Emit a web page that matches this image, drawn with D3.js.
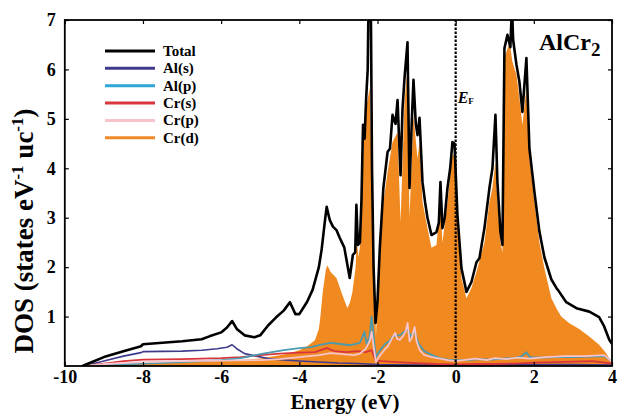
<!DOCTYPE html>
<html>
<head>
<meta charset="utf-8">
<script src="https://cdn.jsdelivr.net/npm/d3@7"></script>
<style>
  html, body { margin: 0; padding: 0; background: #fff; }
  svg { display: block; }
  text { font-family: "Liberation Serif", "Times New Roman", serif; font-weight: bold; }
</style>
</head>
<body>
<svg id="chart" width="619" height="416"></svg>
<script>
// Energy (eV) vs DOS (states eV^-1 uc^-1) for AlCr2
const xTicks = [-10, -8, -6, -4, -2, 0, 2, 4];
const yTicks = [1, 2, 3, 4, 5, 6, 7];

const totalDOS = [
  [-9.55,0],[-9.3,0.08],[-9,0.18],[-8.5,0.3],[-8.05,0.4],[-8,0.44],[-7.5,0.47],[-7,0.5],
  [-6.5,0.54],[-6.3,0.6],[-6.0,0.68],[-5.85,0.78],[-5.72,0.91],[-5.6,0.75],[-5.4,0.62],
  [-5.15,0.58],[-5.0,0.62],[-4.8,0.82],[-4.6,0.98],[-4.4,1.12],[-4.24,1.29],[-4.1,1.05],
  [-4.0,1.05],[-3.8,1.3],[-3.66,1.54],[-3.5,2.0],[-3.43,2.35],[-3.35,2.9],[-3.3,3.22],
  [-3.22,2.95],[-3.14,2.82],[-3.05,2.75],[-2.97,2.6],[-2.85,2.4],[-2.71,1.78],[-2.63,2.25],
  [-2.57,2.3],[-2.54,3.26],[-2.5,2.45],[-2.45,2.5],[-2.41,3.36],[-2.37,4.88],[-2.33,4.6],
  [-2.29,5.42],[-2.25,6.0],[-2.23,7.3],[-2.17,7.3],[-2.14,4.0],[-2.1,2.0],[-2.05,0.87],
  [-2.0,1.3],[-1.94,2.4],[-1.85,3.6],[-1.742,4.33],[-1.68,4.4],[-1.615,5.08],[-1.538,4.9],
  [-1.487,5.38],[-1.41,3.86],[-1.36,5.2],[-1.308,5.83],[-1.232,6.55],[-1.181,3.6],
  [-1.12,5.0],[-1.079,5.79],[-1.02,4.9],[-0.976,4.67],[-0.925,5.02],[-0.848,3.72],
  [-0.78,3.3],[-0.721,3.0],[-0.619,2.65],[-0.491,2.71],[-0.43,2.9],[-0.389,3.72],
  [-0.338,2.79],[-0.28,3.0],[-0.21,3.6],[-0.14,4.0],[-0.082,4.53],[-0.03,4.5],[0.046,3.05],
  [0.148,1.98],[0.276,1.5],[0.404,1.7],[0.532,2.1],[0.608,2.18],[0.736,2.79],[0.864,3.6],
  [0.941,4.0],[1.018,5.08],[1.069,3.72],[1.146,2.71],[1.197,2.45],[1.248,6.43],[1.325,6.7],
  [1.40,6.45],[1.44,7.3],[1.47,6.6],[1.555,6.1],[1.631,5.75],[1.708,5.14],[1.81,6.23],
  [1.887,4.4],[2.015,3.52],[2.143,2.72],[2.27,2.2],[2.449,1.75],[2.577,1.58],[2.65,1.5],
  [2.83,1.29],[3.09,1.17],[3.42,1.1],[3.67,0.99],[3.8,0.8],[3.93,0.53],[4.0,0.45]
];

const crD = [
  [-9.5,0],[-9,0.02],[-8,0.05],[-7,0.07],[-6,0.1],[-5.5,0.12],[-5,0.15],[-4.5,0.22],
  [-4.3,0.25],[-4,0.32],[-3.8,0.4],[-3.6,0.52],[-3.5,0.75],[-3.46,1.0],[-3.4,1.5],
  [-3.32,1.95],[-3.28,2.04],[-3.2,1.9],[-3.05,1.78],[-2.9,1.44],[-2.77,1.17],[-2.7,1.3],
  [-2.64,1.5],[-2.56,2.0],[-2.53,2.6],[-2.49,2.2],[-2.45,2.4],[-2.4,3.3],[-2.33,5.08],
  [-2.27,5.3],[-2.2,5.63],[-2.12,3.05],[-2.04,0.6],[-1.94,2.25],[-1.85,3.3],[-1.742,3.92],
  [-1.615,4.53],[-1.487,4.73],[-1.41,2.91],[-1.308,5.34],[-1.232,6.03],[-1.181,3.0],
  [-1.079,5.08],[-0.976,4.2],[-0.925,4.53],[-0.848,3.32],[-0.721,2.79],[-0.619,2.39],
  [-0.491,2.45],[-0.389,3.32],[-0.338,2.5],[-0.21,3.3],[-0.082,4.27],[0.0,4.27],[0.046,2.79],
  [0.148,1.78],[0.276,1.37],[0.404,1.58],[0.532,1.9],[0.736,2.5],[0.864,3.32],[0.941,3.6],
  [1.018,4.13],[1.069,3.3],[1.146,2.5],[1.197,2.3],[1.248,6.23],[1.38,6.55],[1.453,6.15],
  [1.555,5.89],[1.631,5.42],[1.708,4.88],[1.81,5.63],[1.887,4.2],[2.015,3.32],[2.143,2.5],
  [2.27,1.98],[2.449,1.37],[2.577,1.17],[2.7,1.0],[2.9,0.87],[3.16,0.75],[3.41,0.6],
  [3.67,0.43],[3.85,0.26],[3.93,0.15],[4.0,0.1]
];

const alS = [
  [-9.5,0],[-9,0.1],[-8.5,0.2],[-8.05,0.27],[-8,0.29],[-7,0.3],[-6.5,0.32],[-6.1,0.35],
  [-5.85,0.38],[-5.72,0.43],[-5.6,0.35],[-5.4,0.25],[-5.1,0.2],[-4.8,0.15],[-4.4,0.12],
  [-4,0.1],[-3.5,0.08],[-3,0.06],[-2.5,0.05],[-2,0.03],[-1,0.02],[0,0.02],[1,0.02],
  [2,0.03],[3,0.03],[4,0.02]
];

const alP = [
  [-9.5,0],[-9,0.02],[-8,0.05],[-7,0.08],[-6,0.12],[-5.5,0.16],[-5,0.24],[-4.7,0.28],
  [-4.4,0.32],[-4,0.36],[-3.7,0.38],[-3.5,0.42],[-3.2,0.47],[-3.0,0.45],[-2.8,0.43],
  [-2.7,0.42],[-2.55,0.45],[-2.45,0.47],[-2.38,0.6],[-2.33,0.69],[-2.28,0.45],[-2.2,0.6],
  [-2.15,1.0],[-2.1,0.6],[-2.04,0.18],[-1.95,0.3],[-1.8,0.45],[-1.7,0.5],[-1.6,0.6],
  [-1.5,0.62],[-1.43,0.62],[-1.3,0.7],[-1.23,0.75],[-1.15,0.6],[-1.05,0.7],[-0.95,0.45],
  [-0.8,0.3],[-0.6,0.22],[-0.4,0.16],[-0.2,0.13],[0,0.12],[0.3,0.12],[0.6,0.14],[0.9,0.13],
  [1.2,0.15],[1.5,0.16],[1.7,0.2],[1.8,0.28],[1.9,0.18],[2.2,0.17],[2.6,0.18],[3,0.18],
  [3.4,0.19],[3.8,0.2],[3.95,0.12],[4,0.08]
];

const crS = [
  [-9.5,0],[-9,0.05],[-8.5,0.1],[-8,0.13],[-7,0.14],[-6,0.16],[-5.5,0.18],[-5,0.22],
  [-4.5,0.25],[-4,0.27],[-3.6,0.28],[-3.3,0.36],[-3.1,0.3],[-2.8,0.28],[-2.5,0.3],
  [-2.3,0.28],[-2.15,0.32],[-2.05,0.12],[-1.9,0.1],[-1.5,0.08],[-1,0.06],[-0.5,0.04],
  [0,0.03],[0.5,0.04],[1,0.04],[1.5,0.05],[2,0.07],[2.5,0.08],[3,0.09],[3.5,0.1],[4,0.05]
];

const crP = [
  [-9.5,0],[-9,0.04],[-8,0.08],[-7,0.1],[-6,0.11],[-5,0.12],[-4.5,0.14],[-4,0.18],
  [-3.5,0.22],[-3.2,0.26],[-2.9,0.24],[-2.6,0.22],[-2.45,0.25],[-2.3,0.35],[-2.2,0.5],
  [-2.15,0.69],[-2.1,0.4],[-2.04,0.08],[-1.95,0.2],[-1.8,0.35],[-1.74,0.39],[-1.6,0.6],
  [-1.55,0.67],[-1.5,0.55],[-1.43,0.53],[-1.35,0.6],[-1.28,0.7],[-1.23,0.87],[-1.18,0.5],
  [-1.13,0.55],[-1.05,0.79],[-1.0,0.5],[-0.92,0.32],[-0.8,0.22],[-0.6,0.18],[-0.4,0.15],
  [-0.2,0.12],[0,0.1],[0.2,0.12],[0.5,0.15],[0.8,0.12],[1.0,0.16],[1.3,0.14],[1.6,0.17],
  [1.9,0.15],[2.3,0.18],[2.8,0.2],[3.3,0.2],[3.8,0.22],[3.95,0.12],[4,0.08]
];

const legendLabels = ["Total", "Al(s)", "Al(p)", "Cr(s)", "Cr(p)", "Cr(d)"];
const legendColors = ["#000000", "#3f3a8c", "#2ea6d6", "#d8363c", "#f7c4cc", "#ef8a2a"];

const svg = d3.select("#chart");
const W = 619, H = 416;
const m = { left: 64.8, right: 612, top: 20, bottom: 366 };

const x = d3.scaleLinear().domain([-10, 4]).range([m.left, m.right]);
const y = d3.scaleLinear().domain([0, 7]).range([m.bottom, m.top]);

svg.append("rect").attr("width", W).attr("height", H).attr("fill", "#fff");

svg.append("defs").append("clipPath").attr("id", "plotClip")
  .append("rect")
  .attr("x", m.left).attr("y", m.top)
  .attr("width", m.right - m.left).attr("height", m.bottom - m.top);

const plot = svg.append("g").attr("clip-path", "url(#plotClip)");

const line = d3.line().x(d => x(d[0])).y(d => y(d[1]));
const area = d3.area().x(d => x(d[0])).y0(y(0)).y1(d => y(d[1]));

// Cr(d) projected DOS as a filled area
plot.append("path").datum(crD)
  .attr("d", area)
  .attr("fill", "#f0891f");

// smaller projected components
const partials = [
  { data: alS, color: legendColors[1], w: 1.6 },
  { data: crS, color: legendColors[3], w: 1.8 },
  { data: alP, color: "#4a9ab0", w: 1.8 },
  { data: crP, color: legendColors[4], w: 1.8 }
];
partials.forEach(p => {
  plot.append("path").datum(p.data)
    .attr("d", line)
    .attr("fill", "none")
    .attr("stroke", p.color)
    .attr("stroke-width", p.w)
    .attr("stroke-linejoin", "round");
});

// total DOS
plot.append("path").datum(totalDOS)
  .attr("d", line)
  .attr("fill", "none")
  .attr("stroke", "#000")
  .attr("stroke-width", 2.6)
  .attr("stroke-linejoin", "round");

// Fermi level
svg.append("line")
  .attr("x1", x(0)).attr("x2", x(0))
  .attr("y1", y(0)).attr("y2", y(7))
  .attr("stroke", "#000")
  .attr("stroke-width", 2.2)
  .attr("stroke-dasharray", "2.5,1.5");

const ef = svg.append("text")
  .attr("x", x(0) + 2).attr("y", 103)
  .style("font-style", "italic")
  .style("font-size", "16px");
ef.append("tspan").text("E");
ef.append("tspan").attr("dy", 1).style("font-size", "9px").style("font-style", "normal").text("F");

// axes with inward ticks
const fmt = d => String(d);
const axB = svg.append("g").attr("transform", `translate(0,${m.bottom})`)
  .call(d3.axisBottom(x).tickValues(xTicks).tickFormat(fmt).tickSize(-4).tickPadding(4));
const axT = svg.append("g").attr("transform", `translate(0,${m.top})`)
  .call(d3.axisTop(x).tickValues(xTicks).tickFormat("").tickSize(-4));
const axL = svg.append("g").attr("transform", `translate(${m.left},0)`)
  .call(d3.axisLeft(y).tickValues(yTicks).tickFormat(fmt).tickSize(-4).tickPadding(9));
const axR = svg.append("g").attr("transform", `translate(${m.right},0)`)
  .call(d3.axisRight(y).tickValues(yTicks).tickFormat("").tickSize(-4));

[axB, axT, axL, axR].forEach(g => {
  g.select(".domain").remove();
  g.selectAll(".tick line").attr("stroke", "#000").attr("stroke-width", 1.2);
  g.selectAll(".tick text")
    .attr("fill", "#000")
    .style("font-family", "'Liberation Serif', 'Times New Roman', serif")
    .style("font-weight", "bold")
    .style("font-size", "18px");
});

// frame
svg.append("rect")
  .attr("x", m.left).attr("y", m.top)
  .attr("width", m.right - m.left).attr("height", m.bottom - m.top)
  .attr("fill", "none").attr("stroke", "#000").attr("stroke-width", 1.8);

// axis titles
svg.append("text")
  .attr("x", 345).attr("y", 409)
  .attr("text-anchor", "middle")
  .style("font-size", "21px")
  .text("Energy (eV)");

const yt = svg.append("text")
  .attr("transform", "translate(33,231) rotate(-90)")
  .attr("text-anchor", "middle")
  .style("font-size", "27px");
yt.append("tspan").text("DOS (states eV");
yt.append("tspan").attr("dy", -10).style("font-size", "17px").text("-1");
yt.append("tspan").attr("dy", 10).text(" uc");
yt.append("tspan").attr("dy", -10).style("font-size", "17px").text("-1");
yt.append("tspan").attr("dy", 10).text(")");

// compound label
const cl = svg.append("text")
  .attr("x", 539).attr("y", 50)
  .style("font-size", "24px");
cl.append("tspan").text("AlCr");
cl.append("tspan").attr("dy", 6).style("font-size", "19px").text("2");

// legend
const leg = svg.append("g");
legendLabels.forEach((lab, i) => {
  const ly = 51 + i * 17.35;
  leg.append("line")
    .attr("x1", 105).attr("x2", 155)
    .attr("y1", ly).attr("y2", ly)
    .attr("stroke", legendColors[i])
    .attr("stroke-width", 3);
  leg.append("text")
    .attr("x", 163).attr("y", ly + 5)
    .style("font-size", "15px")
    .text(lab);
});
</script>
</body>
</html>
